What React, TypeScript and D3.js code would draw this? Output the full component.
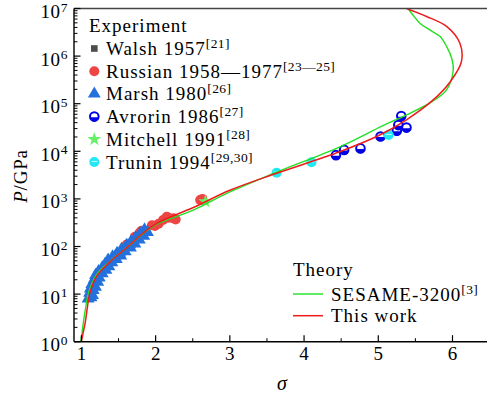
import * as d3 from "d3";

// ---- data ----
// curves: sigma / pressure (GPa)
const workSigma = [1.0, 1.02, 1.05, 1.08, 1.11, 1.2, 1.38, 1.63, 1.83, 2.02, 2.5, 3.0, 3.63, 4.48, 5.02, 5.38, 5.74, 5.97, 6.12, 6.1, 5.92, 5.65, 5.38];
const workP = [1, 1.45, 2.45, 5.2, 10, 23, 47, 100, 190, 310, 650, 1520, 3450, 9800, 2.2e4, 4.6e4, 1.2e5, 2.9e5, 7.6e5, 1.86e6, 4.2e6, 6.8e6, 1e7];

const sesameSigma = [0.99, 1.01, 1.03, 1.06, 1.09, 1.2, 1.38, 1.63, 1.83, 2.02, 2.5, 3.0, 3.63, 4.49, 5.07, 5.38, 5.74, 5.92, 6.01, 5.99, 5.92, 5.83, 5.7, 5.56, 5.47, 5.4];
const sesameP = [1, 1.6, 2.8, 5.5, 10, 25, 48, 100, 186, 295, 575, 1400, 3630, 1.26e4, 3.5e4, 5.8e4, 1.15e5, 1.95e5, 5.1e5, 8.9e5, 1.6e6, 2.6e6, 3.5e6, 4.9e6, 7.2e6, 1e7];

// experiments
const walshSigma = [1.55, 1.66, 1.74];
const walshP = [72, 112, 142];

const russianSigma = [1.36, 1.38, 1.6, 1.62, 1.72, 1.79, 1.81, 1.95, 1.99, 2.04, 2.1, 2.15, 2.17, 2.24, 2.27, 2.6, 2.63];
const russianP = [40, 50, 105, 112, 160, 200, 215, 280, 270, 300, 360, 420, 400, 390, 370, 950, 1000];

const marshSigma = [1.09, 1.13, 1.11, 1.15, 1.12, 1.16, 1.14, 1.19, 1.17, 1.22, 1.19, 1.24, 1.23, 1.28, 1.28, 1.33, 1.32, 1.37, 1.36, 1.41, 1.42, 1.47, 1.48, 1.53, 1.54, 1.59, 1.61, 1.66, 1.67, 1.72, 1.73, 1.78, 1.79, 1.84, 1.85, 1.89, 1.25, 1.45, 1.65, 1.8];
const marshP = [8, 8.5, 10.5, 9.5, 13, 12, 16, 14, 20, 18, 25, 22, 30, 27, 36, 32, 43, 38, 52, 46, 61, 54, 72, 64, 88, 78, 106, 94, 128, 114, 155, 138, 185, 165, 225, 200, 28, 60, 110, 175];

const avrorinSigma = [4.43, 4.54, 4.76, 5.03, 5.25, 5.27, 5.38, 5.31];
const avrorinP = [8300, 1.07e4, 1.15e4, 2.05e4, 2.7e4, 3.55e4, 3.15e4, 5.5e4];

const mitchellSigma = [2.67];
const mitchellP = [880];

const truninSigma = [3.63, 4.1, 5.14];
const truninP = [3550, 5900, 2.2e4];

// axes
const xTicks = [1, 2, 3, 4, 5, 6];
const yExponents = [0, 1, 2, 3, 4, 5, 6, 7];

const W = 487;
const H = 396;
const left = 74;
const top = 8.5;
const bottom = 341.7;
const font = '"Liberation Serif", "Times New Roman", Times, serif';
const FS = 19;

const x = d3.scaleLinear().domain([0.9, 6.5]).range([left, 489.6]);
const y = d3.scaleLog().domain([1, 1e7]).range([bottom, top]);

const RED = "#ee1c1c";
const GREEN = "#22e022";

function pts(s: number[], p: number[]) {
  return s.map((v, i) => [x(v), y(p[i])] as [number, number]);
}

const line = d3.line().curve(d3.curveCatmullRom.alpha(0.5));
const tri = d3.symbol(d3.symbolTriangle, 72)();
const star = d3.symbol(d3.symbolStar, 60)();
const square = d3.symbol(d3.symbolSquare, 44)();

function Avrorin({ cx, cy }: { cx: number; cy: number }) {
  return (
    <g transform={`translate(${cx},${cy})`}>
      <circle r={4.3} fill="#fff" stroke="#0000e6" strokeWidth={2} />
      <path d="M-4.3,0.6 A4.3,4.3 0 0 0 4.3,0.6 Z" fill="#0000e6" />
    </g>
  );
}

function Trunin({ cx, cy }: { cx: number; cy: number }) {
  return (
    <g transform={`translate(${cx},${cy})`}>
      <circle r={5} fill="#22e8f4" />
      <line x1={-3} x2={3} y1={-0.5} y2={-0.5} stroke="#b8fbff" strokeWidth={1.2} />
    </g>
  );
}

function Sup({ t }: { t: string }) {
  return (
    <tspan style={{ fontSize: 13.5 }} dy={-7} letterSpacing={0.4}>
      {t}
    </tspan>
  );
}

const txt = { fontFamily: font, fontSize: FS };

export default function App() {
  const yMinor: number[] = [];
  for (let e = 0; e < 7; e++) for (let k = 2; k <= 9; k++) yMinor.push(k * Math.pow(10, e));
  const xMinor = d3.range(1.5, 6.6, 1);

  const legend = [
    { label: "Walsh 1957", sup: "[21]" },
    { label: "Russian 1958\u20141977", sup: "[23\u201425]" },
    { label: "Marsh 1980", sup: "[26]" },
    { label: "Avrorin 1986", sup: "[27]" },
    { label: "Mitchell 1991", sup: "[28]" },
    { label: "Trunin 1994", sup: "[29,30]" },
  ];

  return (
    <svg width={W} height={H} style={{ position: "absolute", left: 0, top: 0, background: "#fff", fontFamily: font }}>
      <defs>
        <clipPath id="plot">
          <rect x={left} y={top} width={W - left} height={bottom - top} />
        </clipPath>
      </defs>

      {/* markers */}
      <g clipPath="url(#plot)">
        {pts(walshSigma, walshP).map(([cx, cy], i) => (
          <path key={"w" + i} d={square!} transform={`translate(${cx},${cy})`} fill="#4d4d4d" />
        ))}
        {pts(russianSigma, russianP).map(([cx, cy], i) => (
          <circle key={"r" + i} cx={cx} cy={cy} r={5} fill="#ee4444" />
        ))}
        {pts(marshSigma, marshP).map(([cx, cy], i) => (
          <path key={"m" + i} d={tri!} transform={`translate(${cx},${cy})`} fill="#2470dc" />
        ))}
        {pts(avrorinSigma, avrorinP).map(([cx, cy], i) => (
          <Avrorin key={"a" + i} cx={cx} cy={cy} />
        ))}
        {pts(mitchellSigma, mitchellP).map(([cx, cy], i) => (
          <path key={"s" + i} d={star!} transform={`translate(${cx},${cy})`} fill="#66f066" />
        ))}
        {pts(truninSigma, truninP).map(([cx, cy], i) => (
          <Trunin key={"t" + i} cx={cx} cy={cy} />
        ))}
        <path d={line(pts(sesameSigma, sesameP))!} fill="none" stroke={GREEN} strokeWidth={1.4} />
        <path d={line(pts(workSigma, workP))!} fill="none" stroke={RED} strokeWidth={1.5} />
      </g>

      {/* frame */}
      <line x1={left} x2={W} y1={top} y2={top} stroke="#444" strokeWidth={1.6} />
      <line x1={left} x2={left} y1={top} y2={bottom} stroke="#000" strokeWidth={1.4} />
      <line x1={left} x2={W} y1={bottom} y2={bottom} stroke="#000" strokeWidth={1.4} />

      {/* y axis */}
      {yMinor.map((v, i) => (
        <line key={"ym" + i} x1={left} x2={left + 3.5} y1={y(v)} y2={y(v)} stroke="#000" strokeWidth={1} />
      ))}
      {yExponents.map((e) => (
        <g key={"y" + e}>
          <line x1={left} x2={left + 6.5} y1={y(Math.pow(10, e))} y2={y(Math.pow(10, e))} stroke="#000" strokeWidth={1.2} />
          <text x={68} y={y(Math.pow(10, e)) + 9.5} textAnchor="end" style={txt} letterSpacing={0.6}>
            10<tspan style={{ fontSize: 13.5 }} dy={-6.5}>{e}</tspan>
          </text>
        </g>
      ))}

      {/* x axis */}
      {xMinor.map((v, i) => (
        <line key={"xm" + i} x1={x(v)} x2={x(v)} y1={bottom} y2={bottom - 3.5} stroke="#000" strokeWidth={1} />
      ))}
      {xTicks.map((v) => (
        <g key={"x" + v}>
          <line x1={x(v)} x2={x(v)} y1={bottom} y2={bottom - 6.5} stroke="#000" strokeWidth={1.2} />
          <text x={x(v)} y={360} textAnchor="middle" style={txt}>
            {v}
          </text>
        </g>
      ))}

      {/* axis titles */}
      <text x={282} y={390} textAnchor="middle" style={{ ...txt, fontSize: 20, fontStyle: "italic" }}>
        σ
      </text>
      <text transform="translate(27,176) rotate(-90)" textAnchor="middle" style={txt} letterSpacing={0.8}>
        <tspan style={{ fontStyle: "italic" }}>P</tspan>/GPa
      </text>

      {/* experiment legend */}
      <text x={89} y={32} style={txt} letterSpacing={1}>
        Experiment
      </text>
      {legend.map((d, i) => {
        const cy = 48.5 + i * 22.7;
        return (
          <g key={d.label}>
            {i === 0 && <path d={square!} transform={`translate(94.3,${cy})`} fill="#4d4d4d" />}
            {i === 1 && <circle cx={94.3} cy={cy} r={5} fill="#ee4444" />}
            {i === 2 && <path d={tri!} transform={`translate(94.3,${cy})`} fill="#2470dc" />}
            {i === 3 && <Avrorin cx={94.3} cy={cy} />}
            {i === 4 && <path d={star!} transform={`translate(94.3,${cy})`} fill="#66f066" />}
            {i === 5 && <Trunin cx={94.3} cy={cy} />}
            <text x={106} y={cy + 6.5} style={txt} letterSpacing={1}>
              {d.label}
              <Sup t={d.sup} />
            </text>
          </g>
        );
      })}

      {/* theory legend */}
      <text x={293} y={276} style={txt} letterSpacing={1}>
        Theory
      </text>
      <line x1={293} x2={323} y1={294} y2={294} stroke={GREEN} strokeWidth={1.4} />
      <text x={331} y={300.5} style={txt} letterSpacing={1}>
        SESAME-3200
        <Sup t="[3]" />
      </text>
      <line x1={293} x2={323} y1={315.7} y2={315.7} stroke={RED} strokeWidth={1.5} />
      <text x={331} y={322} style={txt} letterSpacing={1}>
        This work
      </text>
    </svg>
  );
}
